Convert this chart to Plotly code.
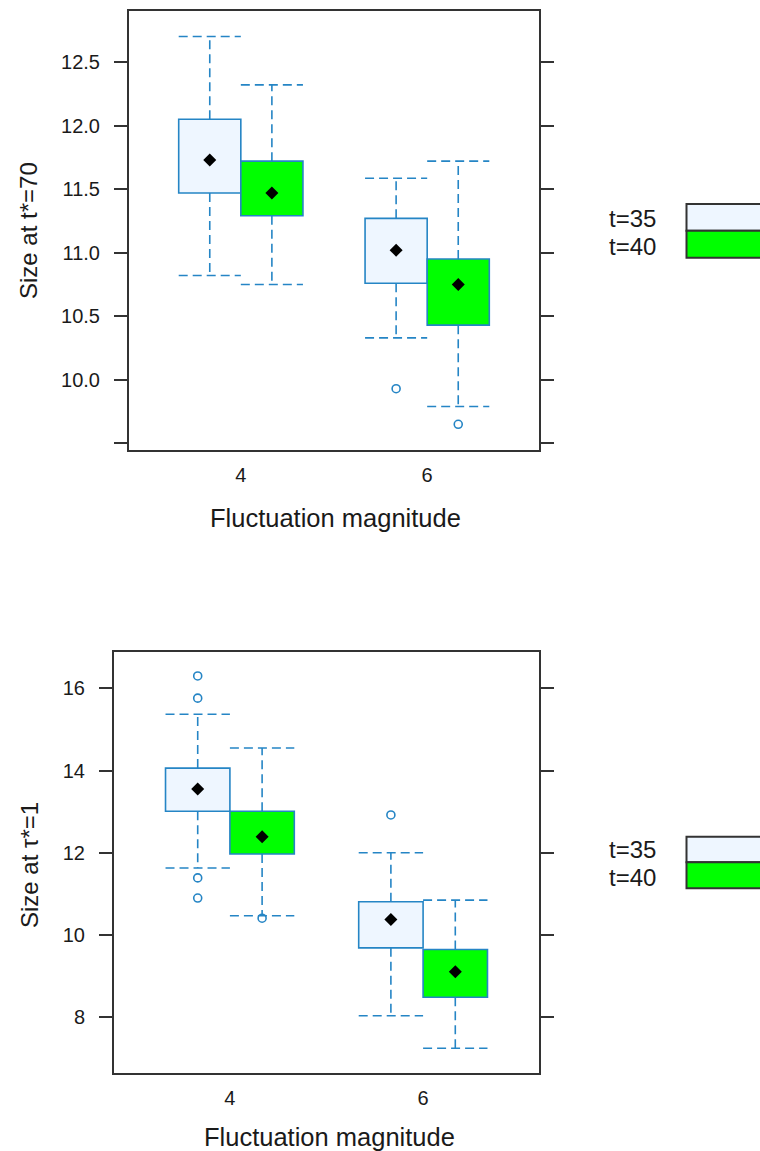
import plotly.graph_objects as go

# ---------------- data ----------------
cat_labels = ["4", "6"]
cat_pos = [1, 2]
series_names = ["t=35", "t=40"]

# Panel A: Size at t*=70
a35_low = [10.82, 10.33]
a35_q1 = [11.47, 10.76]
a35_med = [11.73, 11.02]
a35_q3 = [12.05, 11.27]
a35_high = [12.70, 11.585]
a35_out_cat = [2]
a35_out = [9.93]

a40_low = [10.75, 9.79]
a40_q1 = [11.29, 10.43]
a40_med = [11.47, 10.75]
a40_q3 = [11.72, 10.95]
a40_high = [12.32, 11.72]
a40_out_cat = [2]
a40_out = [9.65]

# Panel B: Size at tau*=1
b35_low = [11.63, 8.04]
b35_q1 = [13.01, 9.69]
b35_med = [13.55, 10.38]
b35_q3 = [14.06, 10.81]
b35_high = [15.37, 12.00]
b35_out_cat = [1, 1, 1, 1, 2]
b35_out = [16.30, 15.76, 11.39, 10.90, 12.92]

b40_low = [10.47, 7.25]
b40_q1 = [11.97, 8.49]
b40_med = [12.39, 9.11]
b40_q3 = [13.01, 9.65]
b40_high = [14.55, 10.85]
b40_out_cat = [1]
b40_out = [10.41]

a_ticks = [9.5, 10.0, 10.5, 11.0, 11.5, 12.0, 12.5]
a_ticktext = ["", "10.0", "10.5", "11.0", "11.5", "12.0", "12.5"]
b_ticks = [8, 10, 12, 14, 16]
b_ticktext = ["8", "10", "12", "14", "16"]

# ---------------- style ----------------
W, H = 760, 1151
FONT = "Liberation Sans, Arial, sans-serif"
EDGE = "#2585C5"
FILLS = ["#EEF6FF", "#00FF00"]
FRAME = "#333333"
TXT = "#1a1a1a"
BOX_W = 1 / 3

fig = go.Figure()


def add_series(xa, ya, idx, low, q1, med, q3, high, out_cat, out):
    offset = -BOX_W if idx == 0 else 0.0
    centers = [p + offset + BOX_W / 2 for p in cat_pos]
    fig.add_trace(go.Bar(
        x=cat_pos, y=[b - a for a, b in zip(q1, q3)], base=q1,
        width=BOX_W, offset=offset,
        marker=dict(color=FILLS[idx], line=dict(color=EDGE, width=1.6)),
        xaxis=xa, yaxis=ya, showlegend=False, hoverinfo="skip", name=series_names[idx]))
    wx, wy = [], []
    for c, lo, a, b, hi in zip(centers, low, q1, q3, high):
        wx += [c, c, None, c, c, None,
               c - BOX_W / 2, c + BOX_W / 2, None, c - BOX_W / 2, c + BOX_W / 2, None]
        wy += [b, hi, None, a, lo, None, hi, hi, None, lo, lo, None]
    fig.add_trace(go.Scatter(
        x=wx, y=wy, mode="lines",
        line=dict(color=EDGE, width=1.6, dash="9px,5px"),
        xaxis=xa, yaxis=ya, showlegend=False, hoverinfo="skip"))
    ox = [cat_pos[c - 1] + offset + BOX_W / 2 for c in out_cat]
    fig.add_trace(go.Scatter(
        x=ox, y=out, mode="markers",
        marker=dict(symbol="circle-open", size=8, color=EDGE, line=dict(width=1.6, color=EDGE)),
        xaxis=xa, yaxis=ya, showlegend=False, hoverinfo="skip"))
    fig.add_trace(go.Scatter(
        x=centers, y=med, mode="markers",
        marker=dict(symbol="diamond", size=10, color="black"),
        xaxis=xa, yaxis=ya, showlegend=False, hoverinfo="skip"))


add_series("x", "y", 0, a35_low, a35_q1, a35_med, a35_q3, a35_high, a35_out_cat, a35_out)
add_series("x", "y", 1, a40_low, a40_q1, a40_med, a40_q3, a40_high, a40_out_cat, a40_out)
add_series("x2", "y2", 0, b35_low, b35_q1, b35_med, b35_q3, b35_high, b35_out_cat, b35_out)
add_series("x2", "y2", 1, b40_low, b40_q1, b40_med, b40_q3, b40_high, b40_out_cat, b40_out)


def px_x(v):
    return v / W


def px_y(v):
    return 1 - v / H


xcommon = dict(range=[0.4, 2.6], tickvals=cat_pos, ticktext=cat_labels, ticks="",
               showline=True, mirror=True, linecolor=FRAME, linewidth=2,
               showgrid=False, zeroline=False, automargin=False,
               tickfont=dict(family=FONT, size=20, color=TXT), ticklabelstandoff=6)
ycommon = dict(ticks="outside", ticklen=13, tickwidth=2, tickcolor=FRAME,
               showline=True, mirror="ticks", linecolor=FRAME, linewidth=2,
               showgrid=False, zeroline=False, automargin=False,
               tickfont=dict(family=FONT, size=20, color=TXT), ticklabelstandoff=10)

fig.update_layout(
    width=W, height=H,
    margin=dict(l=0, r=0, t=0, b=0),
    paper_bgcolor="white", plot_bgcolor="white",
    barmode="overlay", showlegend=False,
    font=dict(family=FONT, color=TXT),
    xaxis=dict(domain=[px_x(129), px_x(539)], anchor="y", **xcommon),
    yaxis=dict(domain=[px_y(450), px_y(11)], anchor="x", range=[9.448, 12.901],
               tickvals=a_ticks, ticktext=a_ticktext, **ycommon),
    xaxis2=dict(domain=[px_x(114), px_x(539)], anchor="y2", **xcommon),
    yaxis2=dict(domain=[px_y(1072.7), px_y(652.3)], anchor="x2", range=[6.654, 16.875],
                tickvals=b_ticks, ticktext=b_ticktext, **ycommon),
)

annotations = [
    dict(text="Fluctuation magnitude", x=px_x(335), y=px_y(518), xref="paper", yref="paper",
         xanchor="center", yanchor="middle", showarrow=False, font=dict(size=25.5, family=FONT, color=TXT)),
    dict(text="Fluctuation magnitude", x=px_x(329), y=px_y(1137), xref="paper", yref="paper",
         xanchor="center", yanchor="middle", showarrow=False, font=dict(size=25.5, family=FONT, color=TXT)),
    dict(text="Size at t*=70", x=px_x(29), y=px_y(231), xref="paper", yref="paper", textangle=-90,
         xanchor="center", yanchor="middle", showarrow=False, font=dict(size=24, family=FONT, color=TXT)),
    dict(text="Size at \u03c4*=1", x=px_x(29), y=px_y(865), xref="paper", yref="paper", textangle=-90,
         xanchor="center", yanchor="middle", showarrow=False, font=dict(size=24, family=FONT, color=TXT)),
]
shapes = []
legend_blocks = [(204, 230.7, 257.7), (836.7, 862.3, 888.3)]
for top, mid, bot in legend_blocks:
    for i, (y0, y1) in enumerate([(top, mid), (mid, bot)]):
        shapes.append(dict(type="rect", xref="paper", yref="paper",
                           x0=px_x(686.5), x1=1.1, y0=px_y(y1), y1=px_y(y0),
                           fillcolor=FILLS[i], line=dict(color=FRAME, width=2)))
        ty = mid - 12.5 if i == 0 else mid + 15.5
        annotations.append(dict(text=series_names[i], x=px_x(657), y=px_y(ty),
                                xref="paper", yref="paper", xanchor="right", yanchor="middle",
                                showarrow=False, borderpad=0,
                                font=dict(size=24, family=FONT, color=TXT)))
fig.update_layout(annotations=annotations, shapes=shapes)

fig.write_html("out.html")
